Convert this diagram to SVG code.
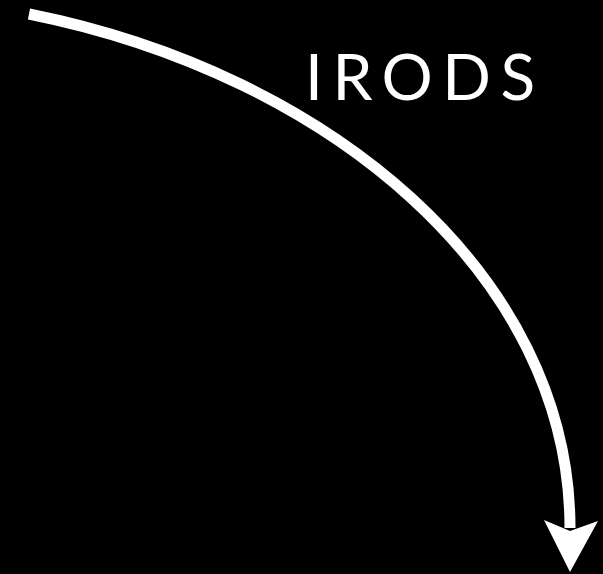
<svg xmlns="http://www.w3.org/2000/svg" width="603" height="574" viewBox="0 0 603 574">
<style>
.conn{fill:none;stroke:#fff;stroke-width:11}
.head{fill:#fff}
.lbl{font-family:Lato,"Open Sans","Liberation Sans",sans-serif;font-size:64px;fill:#fff;letter-spacing:9.5px}
</style>
<rect width="603" height="574" fill="#000"/>
<g id="connectors">
<path class="conn" d="M29,14 C329,74 570,275 570,528"/>
<polygon class="head" points="544,520 570,572 598,521 570,531"/>
</g>
<g id="label">
<text class="lbl" x="305" y="100">IRODS</text>
</g>
</svg>
